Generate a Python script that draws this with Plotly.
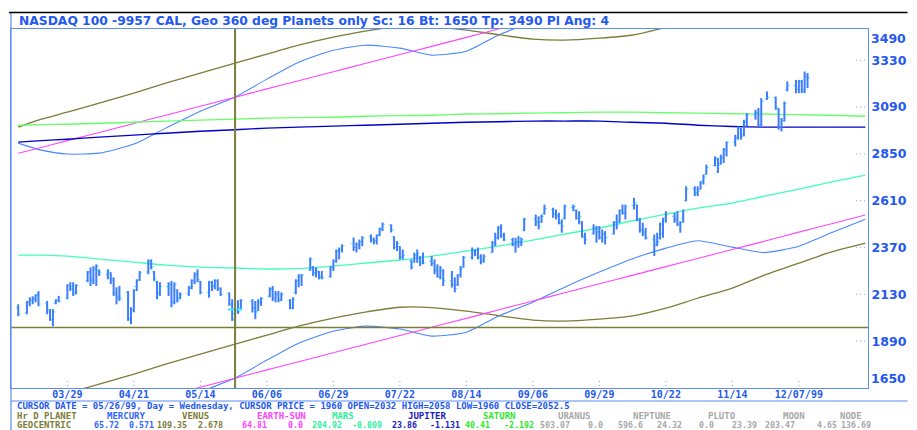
import pandas as pd
import plotly.graph_objects as go

YEAR = 1999

# ---------------- price bars (NASDAQ 100, daily) ----------------
BAR_DAYS = [
    "03-12", "03-15", "03-16", "03-17", "03-18", "03-19",
    "03-22", "03-23", "03-24", "03-25", "03-26",
    "03-29", "03-30", "03-31", "04-01",
    "04-05", "04-06", "04-07", "04-08", "04-09",
    "04-12", "04-13", "04-14", "04-15", "04-16",
    "04-19", "04-20", "04-21", "04-22", "04-23",
    "04-26", "04-27", "04-28", "04-29", "04-30",
    "05-03", "05-04", "05-05", "05-06", "05-07",
    "05-10", "05-11", "05-12", "05-13", "05-14",
    "05-17", "05-18", "05-19", "05-20", "05-21",
    "05-24", "05-25", "05-26", "05-27", "05-28",
    "06-01", "06-02", "06-03", "06-04",
    "06-07", "06-08", "06-09", "06-10", "06-11",
    "06-14", "06-15", "06-16", "06-17", "06-18",
    "06-21", "06-22", "06-23", "06-24", "06-25",
    "06-28", "06-29", "06-30", "07-01", "07-02",
    "07-06", "07-07", "07-08", "07-09",
    "07-12", "07-13", "07-14", "07-15", "07-16",
    "07-19", "07-20", "07-21", "07-22", "07-23",
    "07-26", "07-27", "07-28", "07-29", "07-30",
    "08-02", "08-03", "08-04", "08-05", "08-06",
    "08-09", "08-10", "08-11", "08-12", "08-13",
    "08-16", "08-17", "08-18", "08-19", "08-20",
    "08-23", "08-24", "08-25", "08-26", "08-27",
    "08-30", "08-31", "09-01", "09-02", "09-03",
    "09-07", "09-08", "09-09", "09-10",
    "09-13", "09-14", "09-15", "09-16", "09-17",
    "09-20", "09-21", "09-22", "09-23", "09-24",
    "09-27", "09-28", "09-29", "09-30", "10-01",
    "10-04", "10-05", "10-06", "10-07", "10-08",
    "10-11", "10-12", "10-13", "10-14", "10-15",
    "10-18", "10-19", "10-20", "10-21", "10-22",
    "10-25", "10-26", "10-27", "10-28", "10-29",
    "11-01", "11-02", "11-03", "11-04", "11-05",
    "11-08", "11-09", "11-10", "11-11", "11-12",
    "11-15", "11-16", "11-17", "11-18", "11-19",
    "11-22", "11-23", "11-24", "11-26",
    "11-29", "11-30", "12-01", "12-02", "12-03",
    "12-06", "12-07", "12-08", "12-09", "12-10",
]
OPEN = [
    2060, 2035, 2090, 2100, 2105, 2130,
    2085, 2050, 2000, 2085, 2100,
    2110, 2175, 2170, 2140,
    2200, 2245, 2210, 2260, 2250,
    2230, 2240, 2210, 2140, 2120,
    2140, 2010, 2050, 2170, 2205,
    2245, 2300, 2245, 2195, 2140,
    2170, 2180, 2090, 2150, 2110,
    2135, 2165, 2200, 2235, 2195,
    2140, 2190, 2175, 2200, 2160,
    2135, 2080, 2032, 2050, 2060,
    2095, 2060, 2045, 2090,
    2120, 2160, 2110, 2130, 2100,
    2100, 2060, 2140, 2195, 2220,
    2255, 2270, 2240, 2245, 2220,
    2220, 2270, 2300, 2350, 2360,
    2390, 2370, 2385, 2400,
    2425, 2410, 2405, 2435, 2465,
    2485, 2425, 2370, 2375, 2320,
    2300, 2295, 2330, 2320, 2300,
    2300, 2290, 2260, 2220, 2250,
    2200, 2180, 2180, 2230, 2270,
    2320, 2350, 2355, 2320, 2300,
    2345, 2395, 2420, 2470, 2430,
    2410, 2385, 2400, 2400, 2460,
    2515, 2500, 2500, 2545,
    2565, 2540, 2535, 2495, 2520,
    2575, 2560, 2520, 2500, 2420,
    2440, 2470, 2450, 2420, 2440,
    2440, 2500, 2500, 2560, 2545,
    2585, 2590, 2510, 2460, 2440,
    2410, 2390, 2420, 2440, 2520,
    2530, 2520, 2490, 2520, 2610,
    2670, 2650, 2670, 2710, 2745,
    2790, 2820, 2800, 2830, 2870,
    2910, 2935, 2980, 2950, 3010,
    3050, 3060, 3000, 3130,
    3140, 3080, 2990, 3020, 3180,
    3200, 3180, 3220, 3180, 3250,
]
HIGH = [
    2079, 2096, 2115, 2120, 2130, 2146,
    2096, 2054, 2054, 2105, 2122,
    2182, 2192, 2192, 2182,
    2250, 2268, 2275, 2284, 2258,
    2258, 2243, 2217, 2166, 2173,
    2147, 2064, 2156, 2207, 2250,
    2309, 2309, 2250, 2199, 2192,
    2192, 2199, 2192, 2156, 2140,
    2173, 2207, 2243, 2258, 2199,
    2199, 2199, 2207, 2207, 2166,
    2140, 2105, 2058, 2100, 2105,
    2105, 2096, 2105, 2115,
    2166, 2173, 2147, 2147, 2140,
    2105, 2115, 2207, 2233, 2233,
    2319, 2275, 2268, 2250, 2250,
    2275, 2309, 2360, 2370, 2386,
    2421, 2396, 2411, 2428,
    2437, 2421, 2437, 2472, 2498,
    2489, 2428, 2403, 2377, 2360,
    2309, 2344, 2360, 2326, 2344,
    2326, 2309, 2284, 2275, 2258,
    2250, 2217, 2233, 2275, 2326,
    2370, 2360, 2370, 2335, 2335,
    2403, 2446, 2480, 2489, 2446,
    2420, 2420, 2428, 2420, 2522,
    2539, 2530, 2539, 2590,
    2574, 2565, 2548, 2514, 2590,
    2590, 2565, 2556, 2505, 2446,
    2489, 2480, 2480, 2463, 2454,
    2505, 2539, 2565, 2590, 2590,
    2625, 2590, 2522, 2497, 2471,
    2437, 2446, 2498, 2522, 2556,
    2548, 2556, 2505, 2565, 2684,
    2684, 2684, 2710, 2744, 2795,
    2837, 2829, 2846, 2880, 2914,
    2948, 2991, 2982, 3025, 3059,
    3076, 3085, 3136, 3170,
    3144, 3085, 3034, 3118, 3221,
    3229, 3229, 3229, 3272, 3264,
]
LOW = [
    2018, 2028, 2069, 2079, 2089, 2069,
    2028, 1994, 1967, 2079, 2089,
    2105, 2147, 2122, 2130,
    2192, 2173, 2182, 2173, 2224,
    2207, 2182, 2122, 2079, 2096,
    1994, 1977, 2038, 2147, 2199,
    2233, 2258, 2199, 2105, 2122,
    2122, 2064, 2079, 2089, 2105,
    2122, 2156, 2182, 2192, 2130,
    2113, 2147, 2156, 2147, 2122,
    2071, 1994, 1960, 2030, 2054,
    2037, 2003, 2045, 2071,
    2115, 2096, 2089, 2089, 2096,
    2054, 2054, 2130, 2166, 2173,
    2250, 2224, 2217, 2207, 2207,
    2216, 2250, 2292, 2309, 2345,
    2352, 2345, 2360, 2377,
    2396, 2386, 2386, 2428, 2454,
    2447, 2360, 2352, 2309, 2309,
    2258, 2292, 2292, 2275, 2284,
    2275, 2233, 2216, 2207, 2173,
    2165, 2140, 2173, 2216, 2267,
    2309, 2326, 2309, 2284, 2292,
    2344, 2377, 2411, 2420, 2403,
    2377, 2344, 2369, 2377, 2454,
    2480, 2463, 2497, 2539,
    2522, 2514, 2489, 2446, 2514,
    2556, 2514, 2489, 2420, 2386,
    2437, 2395, 2411, 2395, 2386,
    2437, 2463, 2497, 2539, 2514,
    2565, 2505, 2446, 2428, 2411,
    2326, 2377, 2411, 2420, 2497,
    2497, 2480, 2446, 2497, 2607,
    2633, 2633, 2667, 2693, 2744,
    2786, 2752, 2795, 2803, 2837,
    2888, 2923, 2923, 2940, 2991,
    3025, 2991, 2991, 3127,
    3076, 2974, 2965, 3016, 3170,
    3161, 3161, 3161, 3161, 3187,
]
CLOSE = [
    2030, 2090, 2100, 2110, 2125, 2080,
    2050, 2000, 2040, 2100, 2095,
    2175, 2160, 2130, 2175,
    2245, 2200, 2260, 2275, 2240,
    2250, 2200, 2130, 2110, 2110,
    2000, 2050, 2150, 2200, 2240,
    2300, 2270, 2210, 2130, 2170,
    2180, 2090, 2180, 2100, 2130,
    2160, 2200, 2230, 2205, 2140,
    2190, 2170, 2200, 2160, 2130,
    2080, 2000, 2052.5, 2040, 2100,
    2060, 2040, 2090, 2110,
    2155, 2110, 2130, 2100, 2130,
    2060, 2105, 2200, 2225, 2230,
    2310, 2240, 2250, 2215, 2215,
    2270, 2300, 2355, 2360, 2380,
    2370, 2385, 2400, 2420,
    2410, 2405, 2430, 2465, 2490,
    2460, 2370, 2390, 2320, 2330,
    2270, 2330, 2340, 2290, 2290,
    2290, 2250, 2220, 2260, 2200,
    2180, 2160, 2230, 2260, 2320,
    2360, 2355, 2320, 2300, 2325,
    2395, 2420, 2470, 2430, 2410,
    2385, 2400, 2420, 2410, 2515,
    2500, 2480, 2530, 2570,
    2540, 2530, 2495, 2480, 2580,
    2580, 2520, 2530, 2430, 2410,
    2470, 2450, 2420, 2440, 2420,
    2500, 2490, 2560, 2550, 2580,
    2600, 2510, 2460, 2450, 2420,
    2380, 2400, 2490, 2510, 2540,
    2510, 2490, 2500, 2560, 2670,
    2650, 2660, 2700, 2730, 2780,
    2830, 2790, 2830, 2870, 2910,
    2930, 2985, 2940, 3015, 3050,
    3060, 3000, 3120, 3140,
    3090, 2990, 3020, 3110, 3200,
    3180, 3220, 3170, 3250, 3240,
]

# ---------------- planetary price lines (geocentric, 360 deg) ----------------
LINE_DAYS = ["03-12", "03-20", "03-29", "04-09", "04-21", "05-02", "05-14",
             "05-26", "06-06", "06-17", "06-29", "07-10", "07-22", "08-02",
             "08-14", "08-25", "09-06", "09-17", "09-29", "10-10", "10-22",
             "11-02", "11-14", "11-25", "12-07", "12-18", "12-30"]
MERCURY = [2905, 2869, 2849, 2854, 2900, 2982, 3069, 3141, 3233, 3320, 3381,
           3407, 3392, 3356, 3376, 3458, 3530, 3607, 3684, 3750, 3807, 3845,
           3812, 3784, 3817, 3884, 3955]
VENUS = [2987, 3028, 3064, 3110, 3161, 3212, 3264, 3315, 3361, 3407, 3448,
         3479, 3504, 3502, 3484, 3461, 3438, 3433, 3443, 3458, 3499, 3550,
         3602, 3668, 3730, 3786, 3832]
EARTH_SUN = [2853, 2883, 2918, 2960, 3006, 3048, 3094, 3140, 3183, 3225, 3271,
             3313, 3359, 3401, 3447, 3490, 3536, 3578, 3624, 3666, 3712, 3754,
             3800, 3842, 3889, 3931, 3977]
MARS = [2331, 2331, 2326, 2311, 2295, 2280, 2270, 2265, 2260, 2262, 2275,
        2290, 2306, 2326, 2352, 2377, 2408, 2439, 2470, 2506, 2541, 2572,
        2598, 2633, 2669, 2705, 2741]
JUPITER = [2910, 2918, 2925, 2936, 2946, 2956, 2966, 2974, 2982, 2987, 2992,
           2997, 3002, 3007, 3012, 3015, 3018, 3018, 3018, 3012, 3007, 2997,
           2990, 2987, 2987, 2987, 2987]
SATURN = [2997, 3000, 3002, 3007, 3012, 3018, 3023, 3028, 3033, 3036, 3038,
          3043, 3046, 3048, 3054, 3056, 3059, 3061, 3064, 3064, 3061, 3059,
          3056, 3054, 3051, 3048, 3043]
HARMONICS = [-1440, 0]   # 90 deg x Sc 16

# ---------------- axes / cursor ----------------
X_TICK_DAYS = ["03-29", "04-21", "05-14", "06-06", "06-29", "07-22", "08-14",
               "09-06", "09-29", "10-22", "11-14", "12-07"]
X_TICK_TEXT = ["03/29", "04/21", "05/14", "06/06", "06/29", "07/22", "08/14",
               "09/06", "09/29", "10/22", "11/14", "12/07/99"]
Y_TICKS = [1890, 2130, 2370, 2610, 2850, 3090, 3330]
Y_BOTTOM, Y_TOP = 1650, 3490
CURSOR_DAY = "05-26"
CURSOR_PRICE = 1960

TITLE = "NASDAQ 100 -9957 CAL, Geo 360 deg Planets only Sc: 16 Bt: 1650 Tp: 3490 Pl Ang: 4"
CURSOR_TEXT = ("CURSOR DATE = 05/26/99, Day = Wednesday, CURSOR PRICE = 1960 "
               "OPEN=2032 HIGH=2058 LOW=1960 CLOSE=2052.5")
HEADERS = ["Hr D PLANET", "MERCURY", "VENUS", "EARTH-SUN", "MARS", "JUPITER",
           "SATURN", "URANUS", "NEPTUNE", "PLUTO", "MOON", "NODE"]
POSITIONS = ["65.72", "109.35", "64.81", "204.92", "23.86", "40.41",
             "503.07", "596.6", "0.0", "203.47", "136.69"]
SPEEDS = ["0.571", "2.678", "0.0", "-0.009", "-1.131", "-2.192",
          "0.0", "24.32", "23.39", "4.65", None]

# ---------------- styling ----------------
W, H = 917, 430
L, R, T, B = 10, 877, 29, 388
BLUE_TXT = "#2458f0"
FRAME = "#5b8df5"
OLIVE = "#7d7d3a"
BAR = "#3d7bff"
TICK = "#40e8ff"
C_MERC, C_VEN, C_SUN, C_MARS, C_JUP, C_SAT, C_GRAY = (
    "#4a88ff", OLIVE, "#ff44ff", "#40ffb8", "#0000c8", "#66ff66", "#a8a8a8")
TXT_COLORS = [OLIVE, "#3366ff", OLIVE, C_SUN, "#30f0a0", "#2020c0", "#30e830",
              C_GRAY, C_GRAY, C_GRAY, C_GRAY, C_GRAY]
HEADER_X = [14, 105, 181, 257, 333, 410, 485, 561, 637, 713, 789, 847]
POS_X = [92, 156, 242, 312, 393, 467, 543, 622, 704, 771, 848]
SPD_X = [127, 197, 288, 353, 432, 507, 592, 662, 737, 823, None]


def day(md):
    return pd.Timestamp(f"{YEAR}-{md}")


def px(x):
    return (x - L) / (R - L)


def py(y):
    return (B - y) / (B - T)


def bold(s):
    return f"<b>{s}</b>"


fig = go.Figure()

# planetary lines (with their 90-degree harmonic)
line_dates = [day(d) for d in LINE_DAYS]
planets = [(MERCURY, C_MERC, 1.1), (VENUS, C_VEN, 1.3), (EARTH_SUN, C_SUN, 1.1),
           (MARS, C_MARS, 1.3), (JUPITER, C_JUP, 1.4), (SATURN, C_SAT, 1.4)]
for vals, color, width in planets:
    for off in HARMONICS:
        fig.add_trace(go.Scatter(
            x=line_dates, y=[v + off for v in vals], mode="lines",
            line=dict(color=color, width=width, shape="spline", smoothing=0.6),
            hoverinfo="skip", showlegend=False))

# OHLC bars: open/close ticks (cyan) under high-low bars (blue)
dates = [day(d) for d in BAR_DAYS]
half = pd.Timedelta(hours=20)
tx, ty, hx, hy = [], [], [], []
for d, o, h, lo, c in zip(dates, OPEN, HIGH, LOW, CLOSE):
    tx += [d - half, d, None, d, d + half, None]
    ty += [o, o, None, c, c, None]
    hx += [d, d, None]
    hy += [lo, h, None]
fig.add_trace(go.Scatter(x=tx, y=ty, mode="lines", line=dict(color=TICK, width=1),
                         hoverinfo="skip", showlegend=False))
fig.add_trace(go.Scatter(x=hx, y=hy, mode="lines", line=dict(color=BAR, width=2),
                         hoverinfo="skip", showlegend=False))

# cursor bar highlight
ci = BAR_DAYS.index(CURSOR_DAY)
cd = dates[ci]
arm = pd.Timedelta(days=2.5)
fig.add_trace(go.Scatter(
    x=[cd, cd, None, cd - arm, cd + arm],
    y=[LOW[ci], HIGH[ci], None, CLOSE[ci], CLOSE[ci]],
    mode="lines", line=dict(color=TICK, width=2), hoverinfo="skip", showlegend=False))

shapes = []
# cursor crosshair
shapes.append(dict(type="line", xref="x", yref="paper", x0=cd, x1=cd, y0=0, y1=1,
                   line=dict(color=OLIVE, width=2)))
shapes.append(dict(type="line", xref="paper", yref="y", x0=0, x1=1,
                   y0=CURSOR_PRICE, y1=CURSOR_PRICE, line=dict(color=OLIVE, width=1.5)))
# dotted tick stubs
for v in Y_TICKS:
    shapes.append(dict(type="line", xref="paper", yref="y", x0=px(865), x1=px(874),
                       y0=v, y1=v, line=dict(color="#7f9fd8", width=1, dash="1px,3px")))
for d in X_TICK_DAYS:
    shapes.append(dict(type="line", xref="x", yref="paper", x0=day(d), x1=day(d),
                       y0=py(386), y1=py(379),
                       line=dict(color="#7f9fd8", width=1, dash="1px,3px")))
# window frame lines
shapes.append(dict(type="line", xref="paper", yref="paper", x0=px(L), x1=px(W),
                   y0=py(401), y1=py(401), line=dict(color=FRAME, width=1.2)))
shapes.append(dict(type="line", xref="paper", yref="paper", x0=0, x1=0,
                   y0=py(H), y1=py(13), line=dict(color=FRAME, width=1.2)))
shapes.append(dict(type="line", xref="paper", yref="paper", x0=px(8), x1=px(W),
                   y0=py(12.5), y1=py(12.5), line=dict(color="#000000", width=1.5)))

annotations = []
mono = "DejaVu Sans Mono"
annotations.append(dict(text=bold(TITLE), xref="paper", yref="paper", x=px(16),
                        y=py(21), xanchor="left", yanchor="middle", showarrow=False,
                        font=dict(family="DejaVu Sans", size=12.3, color=BLUE_TXT)))
for v, anchor in [(Y_TOP, "top"), (Y_BOTTOM, "bottom")]:
    annotations.append(dict(text=bold(v), xref="paper", yref="y", x=1, y=v,
                            xanchor="left", yanchor=anchor, xshift=1, showarrow=False,
                            font=dict(family="DejaVu Sans", size=12.5,
                                      color=BLUE_TXT)))
annotations.append(dict(text=bold(CURSOR_TEXT), xref="paper", yref="paper", x=px(14),
                        y=py(406), xanchor="left", yanchor="middle", showarrow=False,
                        font=dict(family=mono, size=9, color=BLUE_TXT)))
for text, x, color in zip(HEADERS, HEADER_X, TXT_COLORS):
    annotations.append(dict(text=bold(text), xref="paper", yref="paper", x=px(x),
                            y=py(415.5), xanchor="left", yanchor="middle",
                            showarrow=False,
                            font=dict(family=mono, size=9, color=color)))
annotations.append(dict(text=bold("GEOCENTRIC"), xref="paper", yref="paper", x=px(14),
                        y=py(425), xanchor="left", yanchor="middle", showarrow=False,
                        font=dict(family=mono, size=9, color=OLIVE)))
for i in range(len(POSITIONS)):
    color = TXT_COLORS[i + 1]
    for text, x in [(POSITIONS[i], POS_X[i]), (SPEEDS[i], SPD_X[i])]:
        if text is None:
            continue
        annotations.append(dict(text=bold(text), xref="paper", yref="paper", x=px(x),
                                y=py(425), xanchor="left", yanchor="middle",
                                showarrow=False,
                                font=dict(family=mono, size=8.3, color=color)))

fig.update_layout(
    width=W, height=H,
    margin=dict(l=L, r=W - R, t=T, b=H - B, pad=0),
    paper_bgcolor="white", plot_bgcolor="white",
    showlegend=False, hovermode=False,
    shapes=shapes, annotations=annotations,
    xaxis=dict(type="date", range=["1999-03-09 12:00", "1999-12-30 22:00"],
               tickvals=[day(d) for d in X_TICK_DAYS],
               ticktext=[bold(t) for t in X_TICK_TEXT],
               ticks="", showgrid=False, zeroline=False, ticklabelstandoff=-3,
               showline=True, mirror=True, linecolor=FRAME, linewidth=1.2,
               tickfont=dict(family=mono, size=10, color=BLUE_TXT)),
    yaxis=dict(side="right", range=[Y_BOTTOM, Y_TOP], tickvals=Y_TICKS,
               ticktext=[bold(v) for v in Y_TICKS], ticks="", showgrid=False,
               zeroline=False, showline=True, mirror=True, linecolor=FRAME,
               linewidth=1.2,
               tickfont=dict(family="DejaVu Sans", size=12.5, color=BLUE_TXT)),
)

fig.write_html("out.html", config={"displayModeBar": False},
               post_script="document.body.style.margin='0px';"
                           "document.body.style.overflow='hidden';")
